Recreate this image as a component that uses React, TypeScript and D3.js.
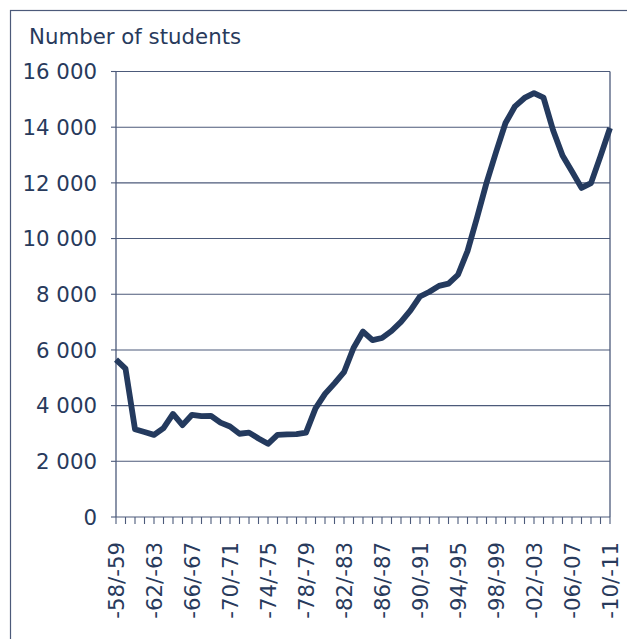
import React from "react";
import * as d3 from "d3";

const categories: string[] = [
  "-58/-59", "-59/-60", "-60/-61", "-61/-62", "-62/-63", "-63/-64", "-64/-65", "-65/-66",
  "-66/-67", "-67/-68", "-68/-69", "-69/-70", "-70/-71", "-71/-72", "-72/-73", "-73/-74",
  "-74/-75", "-75/-76", "-76/-77", "-77/-78", "-78/-79", "-79/-80", "-80/-81", "-81/-82",
  "-82/-83", "-83/-84", "-84/-85", "-85/-86", "-86/-87", "-87/-88", "-88/-89", "-89/-90",
  "-90/-91", "-91/-92", "-92/-93", "-93/-94", "-94/-95", "-95/-96", "-96/-97", "-97/-98",
  "-98/-99", "-99/-00", "-00/-01", "-01/-02", "-02/-03", "-03/-04", "-04/-05", "-05/-06",
  "-06/-07", "-07/-08", "-08/-09", "-09/-10", "-10/-11",
];

const students: number[] = [
  5650, 5330, 3150, 3050, 2950, 3190, 3700, 3300, 3670, 3620, 3630, 3390, 3250, 2990,
  3030, 2820, 2630, 2950, 2970, 2975, 3030, 3900, 4420, 4800, 5200, 6070, 6660, 6350,
  6430, 6680, 7010, 7420, 7920, 8090, 8300, 8380, 8700, 9550, 10750, 12000, 13100, 14150,
  14750, 15050, 15220, 15060, 13900, 12980, 12410, 11820, 11990, 12960, 13970,
];

const yTicks: number[] = [0, 2000, 4000, 6000, 8000, 10000, 12000, 14000, 16000];
const labelEvery = 4;
const title = "Number of students";

const W = 627;
const H = 639;
const left = 116;
const right = 610;
const top = 71.5;
const bottom = 517;

const textColor = "#283a5c";
const axisColor = "#4c5a7a";
const lineColor = "#243a5e";
const font = "'DejaVu Sans', Verdana, sans-serif";
const fontSize = 21.3;

const fmt = (v: number) => d3.format(",")(v).replace(/,/g, " ");

export default function App() {
  const x = d3.scalePoint<string>().domain(categories).range([left, right]);
  const y = d3.scaleLinear().domain([0, 16000]).range([bottom, top]);
  const line = d3
    .line<number>()
    .x((_, i) => x(categories[i]) as number)
    .y((d) => y(d));

  return (
    <svg
      width={W}
      height={H}
      style={{ position: "absolute", left: 0, top: 0, background: "#fff" }}
    >
      <rect x={10.5} y={10.5} width={700} height={700} fill="none" stroke={axisColor} strokeWidth={1.2} />
      <text x={29} y={44} fontFamily={font} fontSize={fontSize} fill={textColor}>
        {title}
      </text>
      {yTicks.map((t) => (
        <g key={t}>
          <line x1={left} x2={right} y1={y(t)} y2={y(t)} stroke={axisColor} strokeWidth={1.1} />
          <line x1={left - 5} x2={left} y1={y(t)} y2={y(t)} stroke={axisColor} strokeWidth={1.1} />
          <text
            x={97}
            y={y(t)}
            dy="0.36em"
            textAnchor="end"
            fontFamily={font}
            fontSize={fontSize}
            fill={textColor}
          >
            {fmt(t)}
          </text>
        </g>
      ))}
      <line x1={left} x2={left} y1={top} y2={bottom} stroke={axisColor} strokeWidth={1.3} />
      <line x1={right} x2={right} y1={top} y2={bottom} stroke={axisColor} strokeWidth={1.3} />
      {categories.map((c, i) => (
        <g key={c}>
          <line
            x1={x(c) as number}
            x2={x(c) as number}
            y1={bottom}
            y2={bottom + 7}
            stroke={axisColor}
            strokeWidth={1.1}
          />
          {i % labelEvery === 0 && (
            <text
              transform={`translate(${x(c)},${bottom + 25}) rotate(-90)`}
              dy="0.36em"
              textAnchor="end"
              fontFamily={font}
              fontSize={fontSize}
              fill={textColor}
            >
              {c}
            </text>
          )}
        </g>
      ))}
      <path
        d={line(students) || ""}
        fill="none"
        stroke={lineColor}
        strokeWidth={5.8}
        strokeLinejoin="round"
        strokeLinecap="butt"
      />
    </svg>
  );
}
